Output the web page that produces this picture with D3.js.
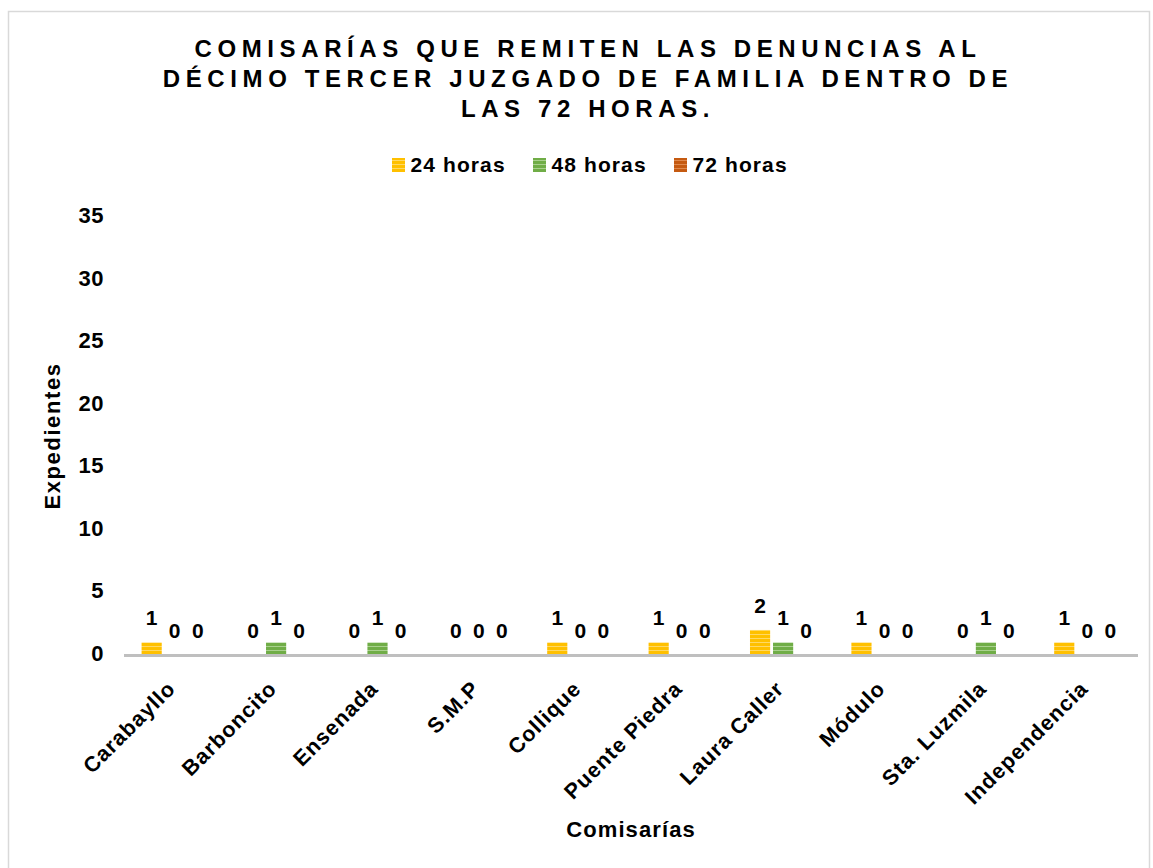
<!DOCTYPE html>
<html>
<head>
<meta charset="utf-8">
<script src="https://cdn.jsdelivr.net/npm/d3@7/dist/d3.min.js"></script>
<style>
  body { margin: 0; background: #fff; }
  svg { display: block; font-family: Arial, "Liberation Sans", sans-serif; }
</style>
</head>
<body>
<svg id="chart" width="1153" height="868"></svg>
<script>
// data
const categories = ['Carabayllo', 'Barboncito', 'Ensenada', 'S.M.P', 'Collique', 'Puente Piedra', 'Laura Caller', 'Módulo', 'Sta. Luzmila', 'Independencia'];
const seriesNames = ['24 horas', '48 horas', '72 horas'];
const h24 = [1, 0, 0, 0, 1, 1, 2, 1, 0, 1];
const h48 = [0, 1, 1, 0, 0, 0, 1, 0, 1, 0];
const h72 = [0, 0, 0, 0, 0, 0, 0, 0, 0, 0];
const yTicks = [0, 5, 10, 15, 20, 25, 30, 35];
const titleLines = ['COMISARÍAS QUE REMITEN LAS DENUNCIAS AL', 'DÉCIMO TERCER JUZGADO DE FAMILIA DENTRO DE', 'LAS 72 HORAS.'];

const series = [h24, h48, h72];
const colors = ['#FFC000', '#70AD47', '#C55A11'];
const stripes = ['#FFD966', '#A9D18E', '#E08A4E'];

const svg = d3.select('#chart');
const M = { left: 124, right: 1138, top: 217, bottom: 655 };

// chart border
svg.append('rect').attr('x', 8.5).attr('y', 11.5).attr('width', 1141).attr('height', 870)
    .attr('fill', '#fff').attr('stroke', '#d9d9d9').attr('stroke-width', 1.5);

// striped fill patterns
const defs = svg.append('defs');
colors.forEach((c, i) => {
    const p = defs.append('pattern').attr('id', 'pat' + i).attr('patternUnits', 'userSpaceOnUse')
        .attr('width', 8).attr('height', 4);
    p.append('rect').attr('width', 8).attr('height', 4).attr('fill', c);
    p.append('rect').attr('y', 2).attr('width', 8).attr('height', 1).attr('fill', stripes[i]);
});

// title
svg.append('g').selectAll('text').data(titleLines).join('text')
    .attr('x', 588).attr('y', (d, i) => 56.5 + i * 30)
    .attr('text-anchor', 'middle').attr('font-size', 24).attr('font-weight', 'bold')
    .attr('letter-spacing', 5.6).attr('fill', '#000').text(d => d);

// legend
const legendX = [392, 533, 674];
const lg = svg.append('g').selectAll('g').data(seriesNames).join('g')
    .attr('transform', (d, i) => `translate(${legendX[i]},158)`);
lg.append('rect').attr('width', 13).attr('height', 14).attr('fill', (d, i) => `url(#pat${i})`);
lg.append('text').attr('x', 18.5).attr('y', 14).attr('font-size', 21).attr('font-weight', 'bold')
    .attr('letter-spacing', 1.1).text(d => d);

// scales
const x0 = d3.scaleBand().domain(categories).range([M.left, M.right]).paddingInner(0.29).paddingOuter(0.145);
const x1 = d3.scaleBand().domain(d3.range(3)).range([0, x0.bandwidth()]).padding(0.125);
const y = d3.scaleLinear().domain([0, 35]).range([M.bottom, M.top]);

// y axis labels
svg.append('g').selectAll('text').data(yTicks).join('text')
    .attr('x', 104).attr('y', d => y(d) + 6).attr('text-anchor', 'end')
    .attr('font-size', 22).attr('font-weight', 'bold').attr('letter-spacing', 0.5).text(d => d);

// bars
const groups = svg.append('g').selectAll('g').data(categories).join('g')
    .attr('transform', d => `translate(${x0(d)},0)`);
groups.each(function (cat, ci) {
    const g = d3.select(this);
    series.forEach((s, si) => {
        const v = s[ci];
        g.append('rect').attr('x', x1(si)).attr('y', y(v)).attr('width', x1.bandwidth())
            .attr('height', M.bottom - y(v)).attr('fill', `url(#pat${si})`);
        g.append('text').attr('x', x1(si) + x1.bandwidth() / 2).attr('y', y(v) - 17)
            .attr('text-anchor', 'middle').attr('font-size', 21).attr('font-weight', 'bold').text(v);
    });
});

// baseline
svg.append('line').attr('x1', M.left).attr('x2', M.right).attr('y1', M.bottom + 0.5).attr('y2', M.bottom + 0.5)
    .attr('stroke', '#bfbfbf').attr('stroke-width', 3);

// category labels
svg.append('g').selectAll('text').data(categories).join('text')
    .attr('transform', d => `translate(${x0(d) + x0.bandwidth() / 2 + 2},${M.bottom + 35}) rotate(-45)`)
    .attr('text-anchor', 'end').attr('font-size', 21.5).attr('font-weight', 'bold')
    .attr('letter-spacing', 1).text(d => d);

// axis titles
svg.append('text').attr('transform', `translate(60,${y(17.5)}) rotate(-90)`)
    .attr('text-anchor', 'middle').attr('font-size', 22).attr('font-weight', 'bold')
    .attr('letter-spacing', 1.6).text('Expedientes');
svg.append('text').attr('x', 631).attr('y', 837).attr('text-anchor', 'middle')
    .attr('font-size', 22).attr('font-weight', 'bold').attr('letter-spacing', 1.1).text('Comisarías');
</script>
</body>
</html>
